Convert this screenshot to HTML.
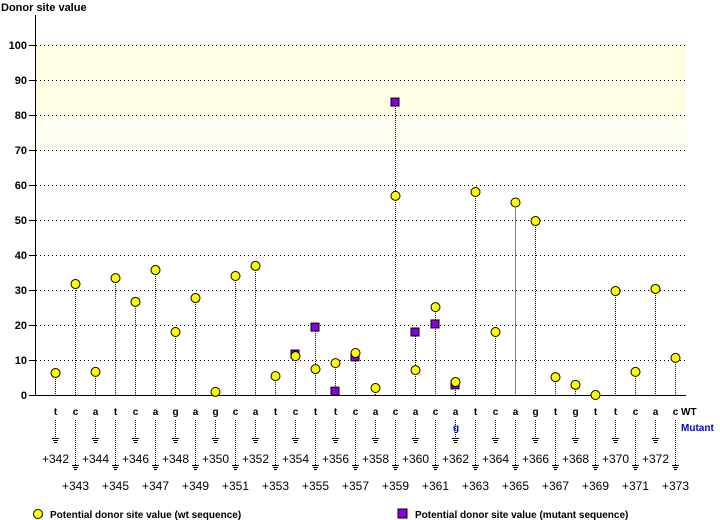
<!DOCTYPE html>
<html><head><meta charset="utf-8"><style>
body{margin:0;background:#fff;width:720px;height:520px;overflow:hidden}
svg{display:block;font-family:"Liberation Sans",sans-serif}
</style></head><body>
<svg id="s" width="720" height="520" xmlns="http://www.w3.org/2000/svg">
<rect x="36" y="45" width="650" height="70" fill="#fffde4"/>
<rect x="36" y="115" width="650" height="35" fill="#fffff2"/>
<text x="1" y="11" font-size="11" font-weight="bold">Donor site value</text>
<line x1="35.5" y1="15" x2="35.5" y2="396" stroke="#000"/>
<line x1="29" y1="395.5" x2="686" y2="395.5" stroke="#000"/>
<g id="g"></g>
<circle cx="38" cy="514" r="4.5" fill="#ffff00" stroke="#000"/>
<text x="50" y="518" font-size="10" font-weight="bold">Potential donor site value (wt sequence)</text>
<rect x="398" y="509" width="9" height="9" fill="#8800dd" stroke="#000"/>
<text x="415" y="518" font-size="10" font-weight="bold">Potential donor site value (mutant sequence)</text>
</svg>
<script>
(function(){
var g=document.getElementById('g'),h='';
for(var v=10;v<=100;v+=10){var y=395-v*3.5;
h+='<line x1="36" y1="'+(y+.5)+'" x2="686" y2="'+(y+.5)+'" stroke="#000" stroke-dasharray="1,3"/>';
h+='<line x1="29" y1="'+(y+.5)+'" x2="35" y2="'+(y+.5)+'" stroke="#000"/>';
h+='<text x="27" y="'+(y+4)+'" font-size="11" font-weight="bold" text-anchor="end">'+v+'</text>';}
h+='<text x="27" y="399" font-size="11" font-weight="bold" text-anchor="end">0</text>';
var seq="tcatcagagcatcttcacacatcagtgttcac";
var wt=[6.3,31.7,6.6,33.4,26.6,35.7,18,27.7,0.9,34,36.9,5.4,11.1,7.4,9.1,12,2,56.9,7.1,25.1,3.7,58,18,55,49.7,5.1,2.9,0,29.7,6.6,30.3,10.6];
var mu={12:11.7,13:19.4,14:1.1,15:10.9,17:83.7,18:18,19:20.3,20:2.9};
for(var i=0;i<32;i++){var x=55+i*20;
var ty=395-wt[i]*3.5;if(mu[i]!==undefined)ty=Math.min(ty,395-mu[i]*3.5);
h+='<line x1="'+(x+.5)+'" y1="'+ty+'" x2="'+(x+.5)+'" y2="395" stroke="#000" stroke-dasharray="1,1"/>';
if(mu[i]!==undefined){var my=395-mu[i]*3.5;h+='<rect x="'+(x-4)+'" y="'+(my-4)+'" width="8" height="8" fill="#8800dd" stroke="#000"/>';}
h+='<circle cx="'+(x+.5)+'" cy="'+(395-wt[i]*3.5)+'" r="4.5" fill="#ffff00" stroke="#000"/>';
h+='<text x="'+(x+.5)+'" y="415" font-size="10" font-weight="bold" text-anchor="middle">'+seq[i]+'</text>';
var odd=i%2==1,ey=odd?465:438;
h+='<line x1="'+(x+.5)+'" y1="420" x2="'+(x+.5)+'" y2="'+ey+'" stroke="#000" stroke-dasharray="1,1"/>';
h+='<line x1="'+(x-3)+'" y1="'+(ey+.5)+'" x2="'+(x+4)+'" y2="'+(ey+.5)+'" stroke="#000"/>';
h+='<line x1="'+(x-2)+'" y1="'+(ey+2.5)+'" x2="'+(x+3)+'" y2="'+(ey+2.5)+'" stroke="#000"/>';
h+='<line x1="'+(x-1)+'" y1="'+(ey+4.5)+'" x2="'+(x+2)+'" y2="'+(ey+4.5)+'" stroke="#000"/>';
h+='<text x="'+(x+.5)+'" y="'+(odd?490:463)+'" font-size="12" text-anchor="middle">+'+(342+i)+'</text>';}
h+='<text x="456" y="431" font-size="10" font-weight="bold" fill="#0000cc" text-anchor="middle">g</text>';
h+='<text x="681" y="415" font-size="10" font-weight="bold">WT</text>';
h+='<text x="681" y="431" font-size="10" font-weight="bold" fill="#0000cc">Mutant</text>';
g.innerHTML=h;
})();
</script>
</body></html>
